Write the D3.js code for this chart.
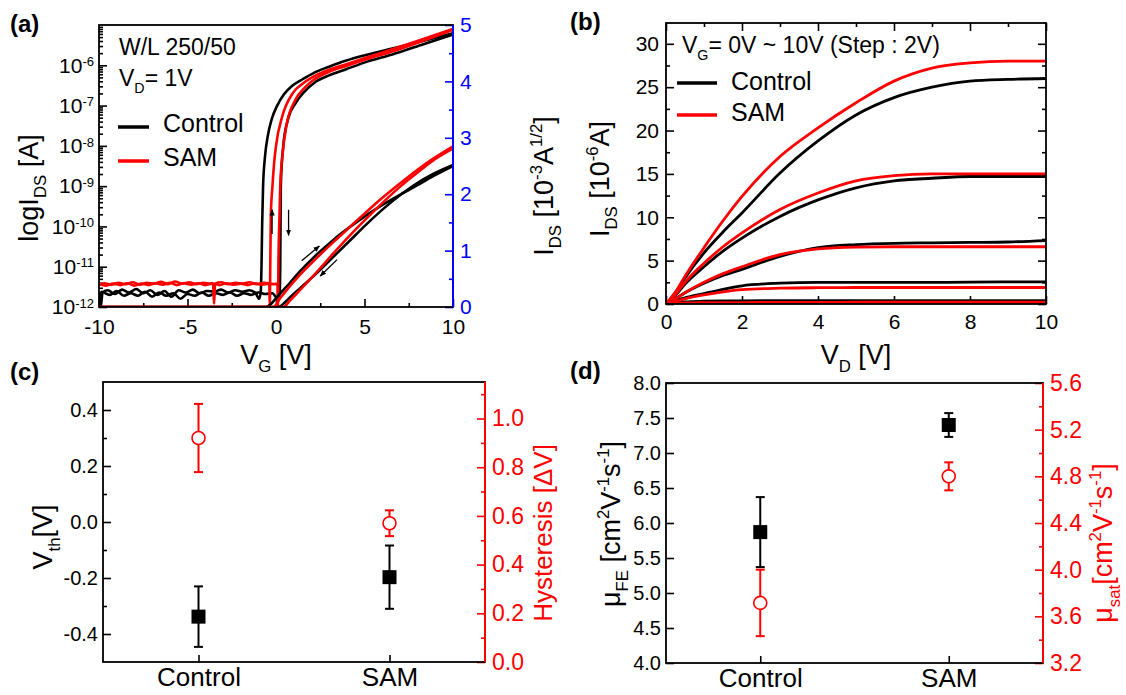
<!DOCTYPE html>
<html>
<head>
<meta charset="utf-8">
<script src="https://cdn.jsdelivr.net/npm/d3@7"></script>
<style>
  html, body { margin: 0; padding: 0; background: #fff; }
  svg { display: block; font-family: 'Liberation Sans', Arial, Helvetica, sans-serif; }
  text { white-space: pre; }
</style>
</head>
<body>
<svg id="fig" width="1126" height="695"></svg>
<script>
// ---------- (a) transfer curves: [V_G (V), I_DS (A)] ----------
const ctrlFwdLog = [[-10, 2.0e-12], [-9.9, 1.0e-12], [-9.8, 2.3e-12], [-9.5, 2.6e-12], [-9.1, 2.1e-12], [-8.7, 2.7e-12],
  [-8.3, 2.3e-12], [-7.9, 2.8e-12], [-7.5, 2.2e-12], [-7.1, 2.6e-12], [-6.7, 2.0e-12], [-6.3, 2.5e-12], [-5.9, 1.8e-12],
  [-5.5, 2.6e-12], [-5.1, 2.3e-12], [-4.7, 2.7e-12], [-4.3, 2.2e-12], [-3.9, 2.5e-12], [-3.5, 2.4e-12], [-3.1, 2.7e-12],
  [-2.7, 2.3e-12], [-2.3, 2.6e-12], [-1.9, 2.4e-12], [-1.5, 2.6e-12], [-1.15, 2.2e-12], [-0.95, 1.6e-12], [-0.86, 2.4e-12],
  [-0.82, 1e-11], [-0.78, 1.2e-10], [-0.73, 1.0e-9], [-0.62, 5.5e-9], [-0.46, 1.8e-8], [-0.25, 4.5e-8], [0.06, 9.8e-8],
  [0.45, 1.9e-7], [0.92, 3.1e-7], [1.5, 4.5e-7], [2.17, 6.6e-7], [3.0, 9.2e-7], [3.93, 1.29e-6], [5.2, 1.85e-6],
  [6.57, 2.6e-6], [8.2, 3.9e-6], [10, 6.3e-6]];
const ctrlRevLog = [[-10, 1.7e-12], [-9.85, 2.4e-12], [-9.4, 2.0e-12], [-9.0, 2.5e-12], [-8.6, 1.9e-12], [-8.2, 2.2e-12],
  [-7.8, 1.9e-12], [-7.4, 2.4e-12], [-7.0, 1.8e-12], [-6.6, 2.3e-12], [-6.2, 1.9e-12], [-5.8, 2.2e-12], [-5.4, 1.6e-12],
  [-5.0, 2.1e-12], [-4.6, 1.9e-12], [-4.2, 2.3e-12], [-3.8, 1.9e-12], [-3.4, 2.2e-12], [-3.0, 2.0e-12], [-2.6, 2.3e-12],
  [-2.2, 1.9e-12], [-1.8, 2.2e-12], [-1.4, 2.0e-12], [-1.0, 2.3e-12], [-0.6, 2.1e-12], [-0.2, 2.2e-12], [0.05, 1.7e-12],
  [0.2, 2.0e-12], [0.24, 1e-11], [0.27, 1.0e-9], [0.41, 1.0e-8], [0.68, 4.6e-8], [1.12, 1.17e-7], [1.6, 2.2e-7],
  [2.17, 3.7e-7], [3.0, 5.6e-7], [3.93, 7.9e-7], [5.2, 1.25e-6], [6.57, 1.86e-6], [8.2, 3.2e-6], [10, 5.8e-6]];
const samFwdLog = [[-10, 3.5e-12], [-9.7, 3.9e-12], [-9.3, 3.6e-12], [-8.9, 4.0e-12], [-8.5, 3.7e-12], [-8.1, 4.1e-12],
  [-7.7, 3.6e-12], [-7.3, 4.0e-12], [-6.9, 3.8e-12], [-6.5, 4.2e-12], [-6.1, 3.7e-12], [-5.7, 4.3e-12], [-5.3, 3.8e-12],
  [-4.9, 4.1e-12], [-4.5, 3.7e-12], [-4.1, 4.0e-12], [-3.7, 3.8e-12], [-3.56, 3.9e-12], [-3.5, 1.2e-12], [-3.44, 3.8e-12],
  [-3.1, 4.1e-12], [-2.7, 3.7e-12], [-2.3, 4.0e-12], [-1.9, 3.8e-12], [-1.5, 4.1e-12], [-1.1, 3.7e-12], [-0.7, 4.0e-12],
  [-0.38, 3.9e-12], [-0.35, 1.0e-12], [-0.32, 1.5e-11], [-0.29, 2e-10], [-0.2, 1.0e-9], [-0.1, 4e-9], [0.0, 1.0e-8],
  [0.36, 5.5e-8], [0.97, 2.1e-7], [1.5, 3.5e-7], [2.17, 5.4e-7], [3.0, 7.8e-7], [3.93, 1.05e-6], [5.2, 1.6e-6],
  [6.57, 2.5e-6], [8.2, 4.3e-6], [10, 8.0e-6]];
const samRevLog = [[-10, 3.8e-12], [-9.6, 3.4e-12], [-9.2, 3.8e-12], [-8.8, 3.5e-12], [-8.4, 3.9e-12], [-8.0, 3.4e-12],
  [-7.6, 3.8e-12], [-7.2, 3.5e-12], [-6.8, 3.9e-12], [-6.4, 3.6e-12], [-6.0, 4.0e-12], [-5.6, 3.5e-12], [-5.2, 3.9e-12],
  [-4.8, 3.6e-12], [-4.4, 3.9e-12], [-4.0, 3.5e-12], [-3.6, 3.8e-12], [-3.2, 3.5e-12], [-2.8, 3.9e-12], [-2.4, 3.6e-12],
  [-2.0, 3.8e-12], [-1.6, 3.5e-12], [-1.2, 3.9e-12], [-0.8, 3.6e-12], [-0.4, 3.8e-12], [-0.1, 3.7e-12], [0.08, 3.8e-12],
  [0.11, 1.0e-12], [0.14, 1.5e-11], [0.2, 2e-10], [0.24, 1.0e-9], [0.38, 6.8e-9], [0.59, 3.2e-8], [1.12, 1.45e-7],
  [1.6, 2.7e-7], [2.17, 4.5e-7], [3.0, 6.9e-7], [3.93, 9.5e-7], [5.2, 1.45e-6], [6.57, 2.2e-6], [8.2, 3.9e-6], [10, 7.6e-6]];

// sqrt(I_DS) in 10^-3 A^1/2
const ctrlFwdSqrt = [[-10, 0], [-0.6, 0], [-0.3, 0.05], [0.04, 0.17], [0.79, 0.43], [1.35, 0.63], [2.3, 0.93], [3.24, 1.19],
  [4.18, 1.42], [5.12, 1.63], [6.06, 1.82], [7.0, 1.99], [7.94, 2.15], [8.88, 2.32], [10, 2.5]];
const ctrlRevSqrt = [[-10, 0], [0.13, 0], [0.5, 0.08], [0.79, 0.17], [1.35, 0.33], [2.3, 0.6], [3.24, 0.89], [4.18, 1.18],
  [5.12, 1.47], [6.06, 1.74], [7.0, 1.98], [7.94, 2.19], [8.88, 2.36], [10, 2.52]];
const samFwdSqrt = [[-10, 0], [-0.15, 0], [0.2, 0.14], [0.6, 0.3], [1.35, 0.57], [2.3, 0.87], [3.24, 1.15], [4.18, 1.42],
  [5.12, 1.69], [6.06, 1.95], [7.0, 2.19], [7.94, 2.42], [8.88, 2.63], [10, 2.85]];
const samRevSqrt = [[-10, 0], [0.41, 0], [0.8, 0.12], [1.35, 0.3], [2.3, 0.62], [3.24, 0.95], [4.18, 1.27], [5.12, 1.57],
  [6.06, 1.86], [7.0, 2.13], [7.94, 2.37], [8.88, 2.6], [10, 2.81]];

// sweep direction arrows: [[V_G, value] tail, head]
const arrowsLog = [[[-0.22, 6.5e-11], [-0.22, 2.6e-10]], [[0.71, 2.6e-10], [0.71, 6.0e-11]]];
const arrowsSqrt = [[[1.45, 0.82], [2.45, 1.08]], [[3.45, 0.84], [2.5, 0.55]]];

// ---------- (b) output curves, I_DS (10^-6 A) at these V_D ----------
const vdPoints = [0, 0.25, 0.5, 1, 1.5, 2, 3, 4, 5, 6, 7, 8, 9, 10];
const ctrlVg10 = [0, 1.3, 3.0, 5.9, 8.3, 10.5, 15.1, 18.8, 21.8, 23.8, 25.0, 25.7, 25.9, 26.0];
const ctrlVg8 = [0, 1.0, 2.3, 4.3, 6.1, 7.6, 10.1, 12.0, 13.4, 14.2, 14.5, 14.7, 14.7, 14.7];
const ctrlVg6 = [0, 0.6, 1.3, 2.4, 3.3, 4.0, 5.5, 6.5, 6.85, 7.0, 7.05, 7.1, 7.15, 7.3];
const ctrlVg4 = [0, 0.35, 0.7, 1.2, 1.7, 2.1, 2.4, 2.5, 2.5, 2.5, 2.5, 2.52, 2.55, 2.55];
const ctrlVg2 = [0, 0.15, 0.25, 0.32, 0.35, 0.37, 0.4, 0.4, 0.4, 0.4, 0.4, 0.4, 0.4, 0.4];
const ctrlVg0 = [0, 0.02, 0.03, 0.04, 0.04, 0.04, 0.04, 0.04, 0.04, 0.04, 0.04, 0.04, 0.04, 0.04];
const samVg10 = [0, 1.4, 3.2, 6.5, 9.6, 12.4, 17.0, 20.3, 23.2, 25.7, 27.2, 27.8, 28.0, 28.0];
const samVg8 = [0, 1.1, 2.5, 4.7, 6.6, 8.2, 10.9, 12.8, 14.2, 14.8, 15.0, 15.0, 15.0, 15.0];
const samVg6 = [0, 0.6, 1.3, 2.5, 3.5, 4.3, 5.7, 6.35, 6.55, 6.6, 6.6, 6.6, 6.6, 6.6];
const samVg4 = [0, 0.3, 0.6, 1.05, 1.4, 1.65, 1.82, 1.88, 1.9, 1.9, 1.9, 1.9, 1.9, 1.9];
const samVg2 = [0, 0.08, 0.12, 0.15, 0.16, 0.17, 0.18, 0.19, 0.2, 0.2, 0.2, 0.2, 0.2, 0.2];
const samVg0 = [0, 0.01, 0.02, 0.02, 0.02, 0.02, 0.02, 0.02, 0.02, 0.02, 0.02, 0.02, 0.02, 0.02];

// ---------- (c), (d) device statistics ----------
const categories = ['Control', 'SAM'];
const vthMean = [-0.338, -0.197];
const vthErr = [0.108, 0.113];
const hystMean = [0.92, 0.57];
const hystErr = [0.14, 0.053];
const muFeMean = [5.87, 7.40];
const muFeErr = [0.50, 0.17];
const muSatMean = [3.715, 4.80];
const muSatErr = [0.285, 0.12];

// tick values
const aTicksX = [-10, -5, 0, 5, 10], aMinorX = [-7.5, -2.5, 2.5, 7.5];
const aTicksLog = [1e-12, 1e-11, 1e-10, 1e-9, 1e-8, 1e-7, 1e-6];
const aTicksSqrt = [0, 1, 2, 3, 4, 5], aMinorSqrt = [0.5, 1.5, 2.5, 3.5, 4.5];
const bTicksX = [0, 2, 4, 6, 8, 10], bMinorX = [1, 3, 5, 7, 9];
const bTicksY = [0, 5, 10, 15, 20, 25, 30], bMinorY = [2.5, 7.5, 12.5, 17.5, 22.5, 27.5];
const cTicksL = [-0.4, -0.2, 0.0, 0.2, 0.4], cMinorL = [-0.3, -0.1, 0.1, 0.3];
const cTicksR = [0.0, 0.2, 0.4, 0.6, 0.8, 1.0], cMinorR = [0.1, 0.3, 0.5, 0.7, 0.9, 1.1];
const dTicksL = [4.0, 4.5, 5.0, 5.5, 6.0, 6.5, 7.0, 7.5, 8.0];
const dTicksR = [3.2, 3.6, 4.0, 4.4, 4.8, 5.2, 5.6], dMinorR = [3.4, 3.8, 4.2, 4.6, 5.0, 5.4];

const RED = '#ff0000', BLUE = '#0000ff', FONT = "'Liberation Sans', Arial, sans-serif";
const svg = d3.select('#fig');

// text with sub/superscripts
function rich(t, parts, fs) {
  let shift = 0;
  parts.forEach(([s, kind]) => {
    const target = kind === 'sub' ? fs * 0.3 : kind === 'sup' ? -fs * 0.42 : 0;
    t.append('tspan').attr('dy', target - shift).attr('font-size', kind === 'n' ? fs : fs * 0.62).text(s);
    shift = target;
  });
  return t;
}
function hText(x, y, parts, fs, color, anchor) {
  const t = svg.append('text').attr('x', x).attr('y', y).attr('fill', color || '#000')
    .attr('text-anchor', anchor || 'start').attr('font-size', fs);
  return rich(t, parts, fs);
}
function vText(x, y, parts, fs, color) {
  const t = svg.append('text').attr('transform', `translate(${x},${y}) rotate(-90)`)
    .attr('text-anchor', 'middle').attr('fill', color || '#000').attr('font-size', fs);
  return rich(t, parts, fs);
}
function axis(gen, transform, color, fs) {
  const a = svg.append('g').attr('transform', transform).call(gen);
  a.attr('font-family', FONT).attr('font-size', fs);
  a.select('.domain').remove();
  a.selectAll('line').attr('stroke', color).attr('stroke-width', 1.6);
  a.selectAll('text').attr('fill', color);
  return a;
}
function frame(b) {
  svg.append('rect').attr('x', b.l).attr('y', b.t).attr('width', b.r - b.l).attr('height', b.b - b.t)
    .attr('fill', 'none').attr('stroke', '#000').attr('stroke-width', 1.8);
}
function clip(id, b) {
  svg.append('clipPath').attr('id', id).append('rect')
    .attr('x', b.l).attr('y', b.t).attr('width', b.r - b.l).attr('height', b.b - b.t);
}
const fmt = d => String(d);
const fmt1 = d => d.toFixed(1);

svg.append('defs').html(
  '<marker id="ah" viewBox="0 0 10 10" refX="9" refY="5" markerWidth="5" markerHeight="5" orient="auto">' +
  '<path d="M0,1 L10,5 L0,9 z" fill="#000"/></marker>');

// ================= (a) =================
const A = { l: 99, r: 453, t: 25, b: 307 };
const xA = d3.scaleLinear().domain([-10, 10]).range([A.l, A.r]);
const yLog = d3.scaleLog().domain([1e-12, 1e-5]).range([A.b, A.t]);
const ySqrt = d3.scaleLinear().domain([0, 5]).range([A.b, A.t]);
clip('clipA', A);

const aMinorLog = [];
aTicksLog.forEach(d => { for (let k = 2; k <= 9; k++) aMinorLog.push(d * k); });

axis(d3.axisBottom(xA).tickValues(aTicksX).tickFormat(fmt).tickSizeInner(-8).tickSizeOuter(0).tickPadding(12),
  `translate(0,${A.b})`, '#000', 21);
axis(d3.axisBottom(xA).tickValues(aMinorX).tickFormat('').tickSizeInner(-4).tickSizeOuter(0), `translate(0,${A.b})`, '#000', 21);
const aL = axis(d3.axisLeft(yLog).tickValues(aTicksLog).tickSizeInner(-8).tickSizeOuter(0).tickPadding(5),
  `translate(${A.l},0)`, '#000', 21);
aL.selectAll('.tick text').each(function (d) {
  const t = d3.select(this).text('10');
  t.append('tspan').attr('dy', '-0.5em').attr('font-size', '0.62em').text(Math.round(Math.log10(d)));
});
axis(d3.axisLeft(yLog).tickValues(aMinorLog).tickFormat('').tickSizeInner(-4).tickSizeOuter(0), `translate(${A.l},0)`, '#000', 21);
axis(d3.axisRight(ySqrt).tickValues(aTicksSqrt).tickFormat(fmt).tickSizeInner(-8).tickSizeOuter(0).tickPadding(7),
  `translate(${A.r},0)`, BLUE, 21);
axis(d3.axisRight(ySqrt).tickValues(aMinorSqrt).tickFormat('').tickSizeInner(-4).tickSizeOuter(0), `translate(${A.r},0)`, BLUE, 21);

const gA = svg.append('g').attr('clip-path', 'url(#clipA)');
const lineLog = d3.line().x(d => xA(d[0])).y(d => yLog(Math.max(d[1], 5e-13))).curve(d3.curveMonotoneX);
const lineSqrt = d3.line().x(d => xA(d[0])).y(d => ySqrt(d[1])).curve(d3.curveMonotoneX);
[[ctrlFwdLog, '#000'], [ctrlRevLog, '#000'], [samFwdLog, RED], [samRevLog, RED]].forEach(([d, c]) =>
  gA.append('path').attr('d', lineLog(d)).attr('fill', 'none').attr('stroke', c).attr('stroke-width', 2.6));
[[ctrlFwdSqrt, '#000'], [ctrlRevSqrt, '#000'], [samFwdSqrt, RED], [samRevSqrt, RED]].forEach(([d, c]) =>
  gA.append('path').attr('d', lineSqrt(d)).attr('fill', 'none').attr('stroke', c).attr('stroke-width', 2.6));

arrowsLog.forEach(([p, q]) => svg.append('line').attr('x1', xA(p[0])).attr('y1', yLog(p[1]))
  .attr('x2', xA(q[0])).attr('y2', yLog(q[1])).attr('stroke', '#000').attr('stroke-width', 1.3).attr('marker-end', 'url(#ah)'));
arrowsSqrt.forEach(([p, q]) => svg.append('line').attr('x1', xA(p[0])).attr('y1', ySqrt(p[1]))
  .attr('x2', xA(q[0])).attr('y2', ySqrt(q[1])).attr('stroke', '#000').attr('stroke-width', 1.3).attr('marker-end', 'url(#ah)'));

frame(A);
svg.append('line').attr('x1', A.r).attr('x2', A.r).attr('y1', A.t).attr('y2', A.b).attr('stroke', BLUE).attr('stroke-width', 2);

hText(119, 55, [['W/L 250/50', 'n']], 23);
hText(119, 86, [['V', 'n'], ['D', 'sub'], ['= 1V', 'n']], 23);
svg.append('line').attr('x1', 118).attr('x2', 149).attr('y1', 127).attr('y2', 127).attr('stroke', '#000').attr('stroke-width', 3.5);
hText(163, 132, [['Control', 'n']], 25);
svg.append('line').attr('x1', 118).attr('x2', 149).attr('y1', 161).attr('y2', 161).attr('stroke', RED).attr('stroke-width', 3.5);
hText(163, 166, [['SAM', 'n']], 25);

vText(38, 188, [['logI', 'n'], ['DS', 'sub'], [' [A]', 'n']], 27);
vText(553, 186, [['I', 'n'], ['DS', 'sub'], [' [10', 'n'], ['-3', 'sup'], ['A', 'n'], ['1/2', 'sup'], [']', 'n']], 27);
hText((A.l + A.r) / 2, 364, [['V', 'n'], ['G', 'sub'], [' [V]', 'n']], 27, '#000', 'middle');
hText(10, 32, [['(a)', 'n']], 24).attr('font-weight', 'bold');

// ================= (b) =================
const B = { l: 666, r: 1046, t: 23, b: 304 };
const xB = d3.scaleLinear().domain([0, 10]).range([B.l, B.r]);
const yB = d3.scaleLinear().domain([0, 32.4]).range([B.b, B.t]);
clip('clipB', B);

axis(d3.axisBottom(xB).tickValues(bTicksX).tickFormat(fmt).tickSizeInner(-8).tickSizeOuter(0).tickPadding(10),
  `translate(0,${B.b})`, '#000', 21);
axis(d3.axisBottom(xB).tickValues(bMinorX).tickFormat('').tickSizeInner(-4).tickSizeOuter(0), `translate(0,${B.b})`, '#000', 21);
axis(d3.axisTop(xB).tickValues(bTicksX).tickFormat('').tickSizeInner(-8).tickSizeOuter(0), `translate(0,${B.t})`, '#000', 21);
axis(d3.axisTop(xB).tickValues(bMinorX).tickFormat('').tickSizeInner(-4).tickSizeOuter(0), `translate(0,${B.t})`, '#000', 21);
axis(d3.axisLeft(yB).tickValues(bTicksY).tickFormat(fmt).tickSizeInner(-8).tickSizeOuter(0).tickPadding(7),
  `translate(${B.l},0)`, '#000', 21);
axis(d3.axisLeft(yB).tickValues(bMinorY).tickFormat('').tickSizeInner(-4).tickSizeOuter(0), `translate(${B.l},0)`, '#000', 21);
axis(d3.axisRight(yB).tickValues(bTicksY).tickFormat('').tickSizeInner(-8).tickSizeOuter(0), `translate(${B.r},0)`, '#000', 21);
axis(d3.axisRight(yB).tickValues(bMinorY).tickFormat('').tickSizeInner(-4).tickSizeOuter(0), `translate(${B.r},0)`, '#000', 21);

const gB = svg.append('g').attr('clip-path', 'url(#clipB)');
const lineB = d3.line().x((d, i) => xB(vdPoints[i])).y(d => yB(d)).curve(d3.curveMonotoneX);
[ctrlVg0, ctrlVg2, ctrlVg4, ctrlVg6, ctrlVg8, ctrlVg10].forEach(d =>
  gB.append('path').attr('d', lineB(d)).attr('fill', 'none').attr('stroke', '#000').attr('stroke-width', 2.8));
[samVg0, samVg2, samVg4, samVg6, samVg8, samVg10].forEach(d =>
  gB.append('path').attr('d', lineB(d)).attr('fill', 'none').attr('stroke', RED).attr('stroke-width', 2.8));
frame(B);

hText(682, 53, [['V', 'n'], ['G', 'sub'], ['= 0V ~ 10V (Step : 2V)', 'n']], 23);
svg.append('line').attr('x1', 677).attr('x2', 717).attr('y1', 83).attr('y2', 83).attr('stroke', '#000').attr('stroke-width', 3.5);
hText(731, 90, [['Control', 'n']], 25);
svg.append('line').attr('x1', 677).attr('x2', 717).attr('y1', 115).attr('y2', 115).attr('stroke', RED).attr('stroke-width', 3.5);
hText(731, 121, [['SAM', 'n']], 25);

vText(609, 179, [['I', 'n'], ['DS', 'sub'], [' [10', 'n'], ['-6', 'sup'], ['A]', 'n']], 27);
hText((B.l + B.r) / 2, 364, [['V', 'n'], ['D', 'sub'], [' [V]', 'n']], 27, '#000', 'middle');
hText(570, 30, [['(b)', 'n']], 24).attr('font-weight', 'bold');

// ================= (c), (d) =================
function statPanel(P, yL, yR, tL, mL, tR, mR, meanL, errL, meanR, errR) {
  const x = d3.scaleLinear().domain([0.5, 2.5]).range([P.l, P.r]);
  axis(d3.axisBottom(x).tickValues([1, 2]).tickFormat((d, i) => categories[i]).tickSizeInner(-7).tickSizeOuter(0).tickPadding(6),
    `translate(0,${P.b})`, '#000', 26);
  axis(d3.axisLeft(yL).tickValues(tL).tickFormat(fmt1).tickSizeInner(-8).tickSizeOuter(0).tickPadding(5),
    `translate(${P.l},0)`, '#000', 20);
  if (mL.length) axis(d3.axisLeft(yL).tickValues(mL).tickFormat('').tickSizeInner(-4).tickSizeOuter(0), `translate(${P.l},0)`, '#000', 20);
  axis(d3.axisRight(yR).tickValues(tR).tickFormat(fmt1).tickSizeInner(-8).tickSizeOuter(0).tickPadding(7),
    `translate(${P.r},0)`, RED, 23);
  axis(d3.axisRight(yR).tickValues(mR).tickFormat('').tickSizeInner(-4).tickSizeOuter(0), `translate(${P.r},0)`, RED, 23);
  frame(P);
  svg.append('line').attr('x1', P.r).attr('x2', P.r).attr('y1', P.t).attr('y2', P.b).attr('stroke', RED).attr('stroke-width', 2);

  const g = svg.append('g');
  const bars = (mean, err, y, c) => mean.forEach((m, i) => {
    const cx = x(i + 1);
    g.append('line').attr('x1', cx).attr('x2', cx).attr('y1', y(m - err[i])).attr('y2', y(m + err[i]))
      .attr('stroke', c).attr('stroke-width', 2);
    [m - err[i], m + err[i]].forEach(v => g.append('line').attr('x1', cx - 4.5).attr('x2', cx + 4.5)
      .attr('y1', y(v)).attr('y2', y(v)).attr('stroke', c).attr('stroke-width', 2));
  });
  bars(meanR, errR, yR, RED);
  bars(meanL, errL, yL, '#000');
  meanR.forEach((m, i) => g.append('circle').attr('cx', x(i + 1)).attr('cy', yR(m)).attr('r', 6.5)
    .attr('fill', '#fff').attr('stroke', RED).attr('stroke-width', 1.6));
  meanL.forEach((m, i) => g.append('rect').attr('x', x(i + 1) - 7).attr('y', yL(m) - 7).attr('width', 14).attr('height', 14)
    .attr('fill', '#000'));
}

const C = { l: 103, r: 485, t: 382, b: 662 };
statPanel(C, d3.scaleLinear().domain([-0.5, 0.5]).range([C.b, C.t]), d3.scaleLinear().domain([0, 1.15]).range([C.b, C.t]),
  cTicksL, cMinorL, cTicksR, cMinorR, vthMean, vthErr, hystMean, hystErr);
vText(52, 537, [['V', 'n'], ['th', 'sub'], ['[V]', 'n']], 27);
vText(552, 533, [['Hysteresis [ΔV]', 'n']], 26, RED);
hText(10, 380, [['(c)', 'n']], 24).attr('font-weight', 'bold');

const D = { l: 666, r: 1043, t: 383, b: 663 };
statPanel(D, d3.scaleLinear().domain([4, 8]).range([D.b, D.t]), d3.scaleLinear().domain([3.2, 5.6]).range([D.b, D.t]),
  dTicksL, [], dTicksR, dMinorR, muFeMean, muFeErr, muSatMean, muSatErr);
vText(620, 524, [['μ', 'n'], ['FE', 'sub'], [' [cm', 'n'], ['2', 'sup'], ['V', 'n'], ['-1', 'sup'], ['s', 'n'], ['-1', 'sup'], [']', 'n']], 27);
vText(1112, 543, [['μ', 'n'], ['sat', 'sub'], ['[cm', 'n'], ['2', 'sup'], ['V', 'n'], ['-1', 'sup'], ['s', 'n'], ['-1', 'sup'], [']', 'n']], 27, RED);
hText(570, 379, [['(d)', 'n']], 24).attr('font-weight', 'bold');
</script>
</body>
</html>
